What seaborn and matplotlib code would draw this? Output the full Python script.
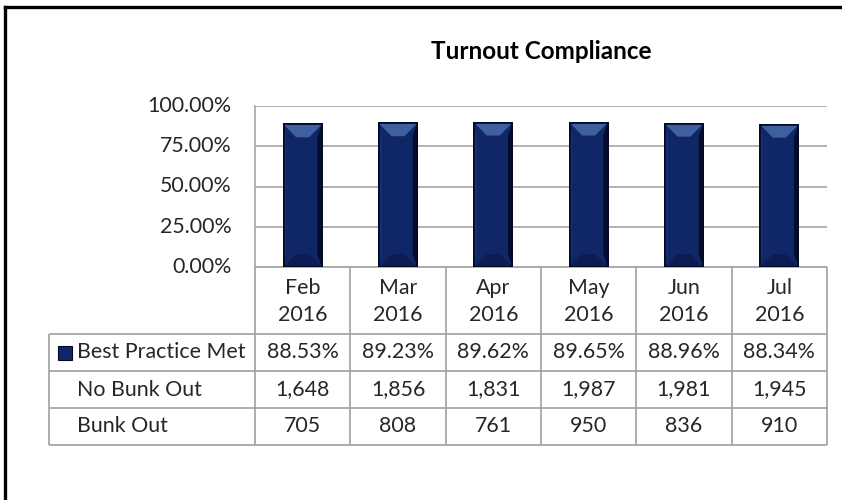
import matplotlib
matplotlib.use("Agg")
import matplotlib.pyplot as plt
import matplotlib.transforms as mtransforms
from matplotlib.patches import Rectangle, Polygon
import seaborn as sns
import pandas as pd

# data
months = ["Feb\n2016", "Mar\n2016", "Apr\n2016", "May\n2016", "Jun\n2016", "Jul\n2016"]
best_practice = [0.8853, 0.8923, 0.8962, 0.8965, 0.8896, 0.8834]
no_bunk_out = [1648, 1856, 1831, 1987, 1981, 1945]
bunk_out = [705, 808, 761, 950, 836, 910]
row_labels = ["Best Practice Met", "No Bunk Out", "Bunk Out"]
title = "Turnout Compliance"

NAVY = "#0f2667"
GRID = "#a6a6a6"
LINE = "#a0a0a0"
TXT = "#262626"
FS = 15.4

sns.set_theme(style="white")
plt.rcParams["font.family"] = ["Lato", "DejaVu Sans"]

W, H = 842, 500
fig = plt.figure(figsize=(W / 100, H / 100), dpi=100)

# overlay axes in pixel coords for the frame and the data table
over = fig.add_axes([0, 0, 1, 1], zorder=0)
over.set_xlim(0, W)
over.set_ylim(H, 0)
over.axis("off")

# chart area (plot area box in pixels)
px_left, px_top, px_right, px_bottom = 255, 106, 827, 267
ax = fig.add_axes([px_left / W, 1 - px_bottom / H,
                   (px_right - px_left) / W, (px_bottom - px_top) / H], zorder=1)
ax.patch.set_alpha(0)

df = pd.DataFrame({"month": months, "value": best_practice})
sns.barplot(data=df, x="month", y="value", color=NAVY, width=0.4,
            saturation=1, edgecolor="#020a22", linewidth=1.4, ax=ax)

# bevel look like the Excel bars: shade each bar's edges from its own geometry
for bar in list(ax.patches):
    x0, y0 = bar.get_x(), bar.get_y()
    w, h = bar.get_width(), bar.get_height()
    dx, dy = w * 0.33, 0.08
    x1, y1 = x0 + w, y0 + h
    faces = [
        ([(x0, y1), (x1, y1), (x1 - dx, y1 - dy), (x0 + dx, y1 - dy)], "#3f5f9e"),
        ([(x0, y0), (x1, y0), (x1 - dx, y0 + dy), (x0 + dx, y0 + dy)], "#0b1d52"),
        ([(x1, y0), (x1, y1), (x1 - dx * 0.35, y1 - dy), (x1 - dx * 0.35, y0 + dy)], "#040d2c"),
        ([(x0, y0), (x0, y1), (x0 + dx * 0.2, y1 - dy), (x0 + dx * 0.2, y0 + dy)], "#16317a"),
    ]
    for pts, c in faces:
        ax.add_patch(Polygon(pts, closed=True, facecolor=c, edgecolor="none", zorder=bar.get_zorder() + 0.1))
    outline = Rectangle((x0, y0), w, h, facecolor="none", edgecolor="#020a22",
                        lw=1.2, zorder=bar.get_zorder() + 0.2)
    ax.add_patch(outline)

ax.set_xlim(-0.5, len(months) - 0.5)
ax.set_ylim(0, 1)
ax.set_yticks([0, 0.25, 0.5, 0.75, 1.0])
ax.set_yticklabels([f"{v * 100:.2f}%" for v in [0, 0.25, 0.5, 0.75, 1.0]],
                   fontsize=FS, color=TXT)
ax.tick_params(axis="y", length=0, pad=17)
ax.tick_params(axis="x", length=0, labelbottom=False)
ax.set_xlabel("")
ax.set_ylabel("")
ax.yaxis.grid(True, color=GRID, linewidth=1.2)
ax.set_axisbelow(True)
for s in ["top", "right", "bottom"]:
    ax.spines[s].set_visible(False)
ax.spines["left"].set_color(GRID)
ax.spines["left"].set_linewidth(1.2)
for lab in ax.get_yticklabels():
    lab.set_verticalalignment("center")

ax.set_title(title, fontsize=17.5, fontweight="bold", color="black", pad=34)

# data table under the chart: x in bar-axis data coords, y in pixels
trans = mtransforms.blended_transform_factory(ax.transData, over.transData)
n = len(months)
row_y = [267, 334, 371, 408, 445]
label_left = 49

over.hlines(row_y[0], -0.5, n - 0.5, color=LINE, lw=1.2, transform=trans)
for y in row_y[1:]:
    over.hlines(y, label_left, px_right, color=LINE, lw=1.2)
over.vlines(label_left, row_y[1], row_y[-1], color=LINE, lw=1.2)
for i in range(n + 1):
    over.vlines(i - 0.5, row_y[0], row_y[-1], color=LINE, lw=1.2, transform=trans)

for i, m in enumerate(months):
    top, bottom = m.split("\n")
    over.text(i, 288, top, ha="center", va="center", fontsize=FS, color=TXT, transform=trans)
    over.text(i, 315, bottom, ha="center", va="center", fontsize=FS, color=TXT, transform=trans)

rows = [[f"{v * 100:.2f}%" for v in best_practice],
        [f"{v:,}" for v in no_bunk_out],
        [f"{v:,}" for v in bunk_out]]
for r, (label, vals) in enumerate(zip(row_labels, rows)):
    yc = (row_y[r + 1] + row_y[r + 2]) / 2
    over.text(77, yc, label, ha="left", va="center", fontsize=FS, color=TXT)
    for i, v in enumerate(vals):
        over.text(i, yc, v, ha="center", va="center", fontsize=FS, color=TXT, transform=trans)

# legend key in the first row label
over.add_patch(Rectangle((58, 346), 14, 14, facecolor=NAVY, edgecolor="#020a22", lw=0.8))

# outer frame (only left and top visible in the crop)
over.plot([5, 5], [H, 6.5], color="black", lw=2.4, solid_capstyle="projecting")
over.plot([5, W], [6.5, 6.5], color="black", lw=2.4, solid_capstyle="projecting")

fig.savefig("out.png", dpi=100)
